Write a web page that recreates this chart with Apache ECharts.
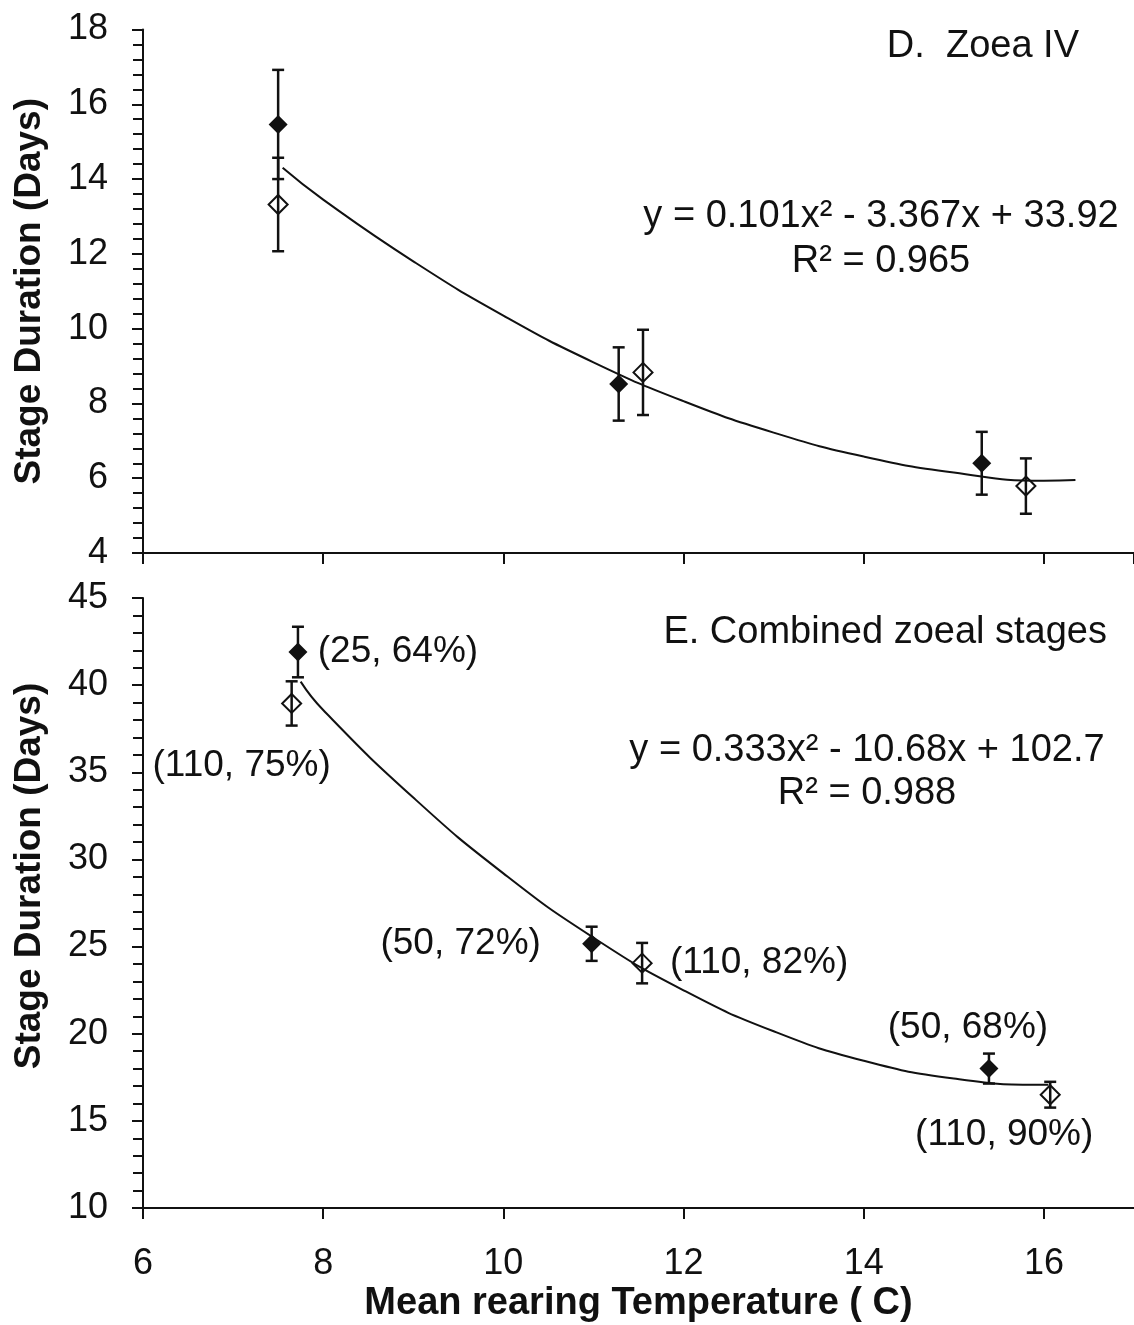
<!DOCTYPE html>
<html>
<head>
<meta charset="utf-8">
<script src="https://cdn.jsdelivr.net/npm/echarts@6/dist/echarts.min.js"></script>
<style>
  html, body { margin: 0; padding: 0; background: #fff; }
  #chart { width: 1134px; height: 1325px; }
</style>
</head>
<body>
<div id="chart"></div>
<script>
// ---------- Panel D: Zoea IV ----------
const tempD_filled = [7.5, 11.28, 15.31];
const durD_filled  = [15.46, 8.52, 6.40];
const errD_filled  = [1.46, 0.98, 0.84];

const tempD_open = [7.5, 11.55, 15.80];
const durD_open  = [13.32, 8.83, 5.79];
const errD_open  = [1.25, 1.14, 0.74];

const trendD_x = [7.55, 8, 9, 10, 11, 12, 13, 14, 15, 16, 16.35];
const trendD_y = [14.30, 13.45, 11.80, 10.35, 9.10, 8.06, 7.22, 6.58, 6.15, 5.93, 5.95];

// ---------- Panel E: Combined zoeal stages ----------
const tempE_filled = [7.72, 10.98, 15.39];
const durE_filled  = [41.90, 25.16, 18.00];
const errE_filled  = [1.45, 0.98, 0.86];
const labelsE_filled = ['(25, 64%)', '(50, 72%)', '(50, 68%)'];

const tempE_open = [7.65, 11.54, 16.07];
const durE_open  = [38.95, 24.05, 16.50];
const errE_open  = [1.27, 1.16, 0.74];
const labelsE_open = ['(110, 75%)', '(110, 82%)', '(110, 90%)'];

const trendE_x = [7.75, 8, 9, 10, 11, 12, 13, 14, 15, 16, 16.05];
const trendE_y = [40.20, 38.57, 33.55, 29.20, 25.51, 22.49, 20.14, 18.45, 17.43, 17.07, 17.07];

// ---------- Axis settings ----------
const xMin = 6, xMax = 17, xStep = 2;
const yD_min = 4, yD_max = 18, yD_step = 2;
const yE_min = 10, yE_max = 45, yE_step = 5;

const xTitle = 'Mean rearing Temperature ( C)';
const yTitle = 'Stage Duration (Days)';
const titleD = 'D.  Zoea IV';
const eqD = 'y = 0.101x² - 3.367x + 33.92';
const r2D = 'R² = 0.965';
const titleE = 'E. Combined zoeal stages';
const eqE = 'y = 0.333x² - 10.68x + 102.7';
const r2E = 'R² = 0.988';

// label offsets (layout only), relative to each point's center
const offE_filled = [[100, 0], [-131, 0], [-21, -41]];
const offE_open = [[-50, 62], [117, 0], [-46, 40]];

const FONT = '"Liberation Sans", Arial, Helvetica, sans-serif';
const INK = '#111';

function pairs(xs, ys) { return xs.map((x, i) => [x, ys[i]]); }
function bars(xs, ys, es) { return xs.map((x, i) => [x, ys[i] - es[i], ys[i] + es[i]]); }

function errRender(params, api) {
  const x = api.value(0), lo = api.value(1), hi = api.value(2);
  const p1 = api.coord([x, hi]), p2 = api.coord([x, lo]);
  const hw = 6;
  const style = { stroke: INK, lineWidth: 2.5, fill: null };
  return {
    type: 'group',
    children: [
      { type: 'line', shape: { x1: p1[0], y1: p1[1], x2: p2[0], y2: p2[1] }, style: style },
      { type: 'line', shape: { x1: p1[0] - hw, y1: p1[1], x2: p1[0] + hw, y2: p1[1] }, style: style },
      { type: 'line', shape: { x1: p2[0] - hw, y1: p2[1], x2: p2[0] + hw, y2: p2[1] }, style: style }
    ]
  };
}

function xAxisCfg(gridIndex, showLabels) {
  return {
    type: 'value', gridIndex: gridIndex, min: xMin, max: xMax, interval: xStep,
    axisLine: { show: true, onZero: false, lineStyle: { color: INK, width: 2 } },
    axisTick: { show: true, inside: false, length: 11, lineStyle: { color: INK, width: 2 } },
    minorTick: { show: false },
    splitLine: { show: false },
    axisLabel: { show: showLabels, showMaxLabel: false, margin: 38, fontSize: 36, color: INK, fontFamily: FONT },
    name: showLabels ? xTitle : '',
    nameLocation: 'middle', nameGap: 77,
    nameTextStyle: { fontSize: 38, fontWeight: 'bold', color: INK, fontFamily: FONT }
  };
}

function yAxisCfg(gridIndex, min, max, step, namePad) {
  return {
    type: 'value', gridIndex: gridIndex, min: min, max: max, interval: step,
    axisLine: { show: true, onZero: false, lineStyle: { color: INK, width: 2 } },
    axisTick: { show: true, inside: false, length: 11, lineStyle: { color: INK, width: 2 } },
    minorTick: { show: true, splitNumber: 5, length: 10, lineStyle: { color: INK, width: 2 } },
    splitLine: { show: false },
    axisLabel: { margin: 35, fontSize: 36, color: INK, fontFamily: FONT },
    name: yTitle, nameLocation: 'middle', nameGap: 95, nameRotate: 90,
    nameTextStyle: { fontSize: 37, fontWeight: 'bold', color: INK, fontFamily: FONT, padding: namePad }
  };
}

const filledStyle = { color: INK, opacity: 1 };
const openStyle = { color: 'rgba(255,255,255,0)', borderColor: INK, borderWidth: 2, opacity: 1 };

function pointSeries(xi, yi, xs, ys, style, labels, offs) {
  return {
    type: 'scatter', xAxisIndex: xi, yAxisIndex: yi, symbol: 'diamond', symbolSize: [19, 19],
    itemStyle: style, z: 5,
    data: xs.map((x, i) => {
      const d = { value: [x, ys[i]] };
      if (labels) {
        d.label = {
          show: true, formatter: labels[i], position: 'inside', offset: offs[i],
          fontSize: 37, color: INK, opacity: 1, fontFamily: FONT
        };
      }
      return d;
    })
  };
}

function errSeries(xi, yi, xs, ys, es) {
  return {
    type: 'custom', xAxisIndex: xi, yAxisIndex: yi, renderItem: errRender,
    encode: { x: 0, y: [1, 2] }, z: 3, data: bars(xs, ys, es)
  };
}

function trendSeries(xi, yi, xs, ys) {
  return {
    type: 'line', xAxisIndex: xi, yAxisIndex: yi, smooth: true, showSymbol: false, symbol: 'none',
    lineStyle: { color: INK, width: 2 }, z: 2, data: pairs(xs, ys)
  };
}

function txt(x, y, s, align) {
  return {
    type: 'text', x: x, y: y, z: 10,
    style: { text: s, x: 0, y: 0, textAlign: align, textVerticalAlign: 'middle', fontSize: 38, fontFamily: FONT, fill: INK }
  };
}

const chart = echarts.init(document.getElementById('chart'), null, { renderer: 'canvas' });
chart.setOption({
  backgroundColor: '#ffffff',
  animation: false,
  grid: [
    { left: 143, top: 29.5, height: 523.5, right: -7 },
    { left: 143, top: 598, height: 610, right: -7 }
  ],
  xAxis: [xAxisCfg(0, false), xAxisCfg(1, true)],
  yAxis: [
    yAxisCfg(0, yD_min, yD_max, yD_step, [0, 0, 0, 0]),
    yAxisCfg(1, yE_min, yE_max, yE_step, [0, 0, 0, 54])
  ],
  series: [
    trendSeries(0, 0, trendD_x, trendD_y),
    errSeries(0, 0, tempD_filled, durD_filled, errD_filled),
    errSeries(0, 0, tempD_open, durD_open, errD_open),
    pointSeries(0, 0, tempD_filled, durD_filled, filledStyle),
    pointSeries(0, 0, tempD_open, durD_open, openStyle),

    trendSeries(1, 1, trendE_x, trendE_y),
    errSeries(1, 1, tempE_filled, durE_filled, errE_filled),
    errSeries(1, 1, tempE_open, durE_open, errE_open),
    pointSeries(1, 1, tempE_filled, durE_filled, filledStyle, labelsE_filled, offE_filled),
    pointSeries(1, 1, tempE_open, durE_open, openStyle, labelsE_open, offE_open)
  ],
  graphic: [
    txt(1079, 47, titleD, 'right'),
    txt(881, 217, eqD, 'center'),
    txt(881, 262, r2D, 'center'),
    txt(1107, 633, titleE, 'right'),
    txt(867, 751, eqE, 'center'),
    txt(867, 794, r2E, 'center')
  ]
});
</script>
</body>
</html>
